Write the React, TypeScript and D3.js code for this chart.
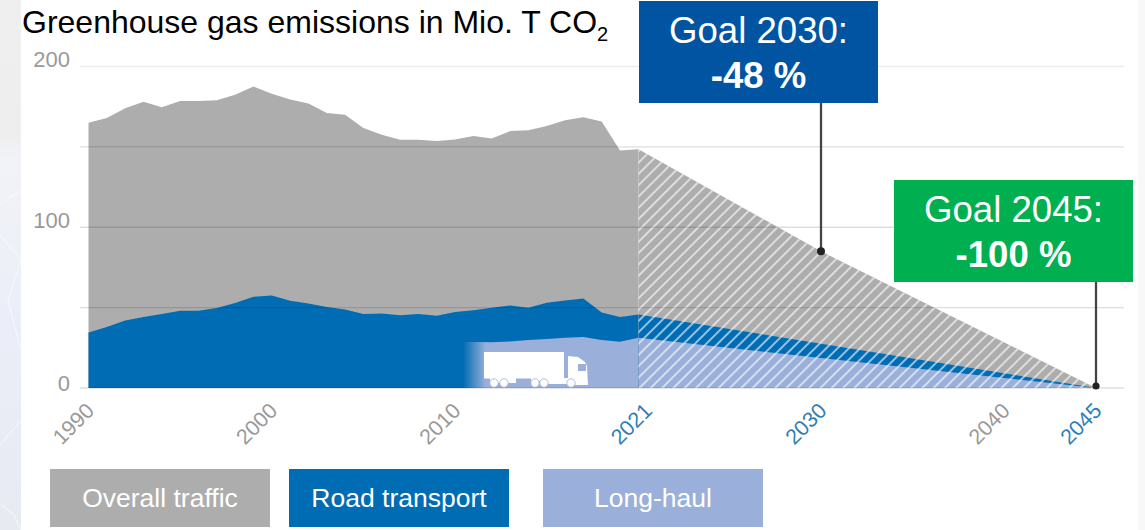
import React from "react";
import * as d3 from "d3";

const historyYears = [1990,1991,1992,1993,1994,1995,1996,1997,1998,1999,2000,2001,2002,2003,2004,2005,2006,2007,2008,2009,2010,2011,2012,2013,2014,2015,2016,2017,2018,2019,2021];
const overallValues = [165,168,174,178,174.6,178.5,178.5,179,182.5,187.5,183,179.5,177,171,170,161.7,157.5,154.5,154.5,153.7,154.6,156.7,155.2,159.8,160.4,163,166.5,168.5,165.8,147.7,148.5];
const roadValues = [34.6,37.9,42,44.2,46,48,48,49.8,52.9,56.7,57.5,54.2,52.5,50.4,48.8,46,46.4,45.2,46,45,47.3,48.3,50,51.4,50,53,54.4,55.6,47,44.2,45.8];
const longHaulYears = [2010,2011,2012,2013,2014,2015,2016,2017,2018,2019,2021];
const longHaulValues = [28.5,28.6,28.5,29,29.8,30.5,31.2,31.7,29.8,28.8,31.2];
const forecastYears = [2021,2030,2045];
const forecastOverall = [148.5,85,0];
const forecastRoad = [45.8,27.5,0];
const forecastLongHaul = [31.2,18.7,0];
const gridValues = [0,50,100,150,200];
const yLabels = [0,100,200];
const xTicks = [1990,2000,2010,2021,2030,2040,2045];
const blueTicks = [2021,2030,2045];
const legendItems = ["Overall traffic","Road transport","Long-haul"];

const GREY = "#adadad";
const BLUE = "#006cb3";
const LIGHT = "#9ab0da";
const FONT = "'Liberation Sans', Arial, sans-serif";

const x = d3.scaleLinear().domain([1990,2019,2021,2030,2045]).range([88.5,620,638.5,821,1096]);
const y = d3.scaleLinear().domain([0,200]).range([388,66.5]);

type P = [number, number];
const zip = (xs: number[], ys: number[]): P[] => xs.map((v, i) => [v, ys[i]]);
const area = d3.area<P>().x(d => x(d[0])).y0(y(0)).y1(d => y(d[1]));

const legendX = [50,289,543];
const legendFill = [GREY,BLUE,LIGHT];

export default function App() {
  return (
    <svg width={1145} height={530} viewBox="0 0 1145 530" style={{position:"fixed",left:0,top:0,background:"#fff"}} fontFamily={FONT}>
      <defs>
        <linearGradient id="leftBg" x1="0" y1="0" x2="0" y2="1">
          <stop offset="0" stopColor="#efefef"/>
          <stop offset="0.25" stopColor="#eeeeee"/>
          <stop offset="0.3" stopColor="#f2f3f7"/>
          <stop offset="0.6" stopColor="#ebeef8"/>
          <stop offset="1" stopColor="#e8eaf2"/>
        </linearGradient>
        <linearGradient id="lhFade" gradientUnits="userSpaceOnUse" x1={463} y1={0} x2={486} y2={0}>
          <stop offset="0" stopColor={LIGHT} stopOpacity={0}/>
          <stop offset="1" stopColor={LIGHT} stopOpacity={1}/>
        </linearGradient>
        <pattern id="hatch" patternUnits="userSpaceOnUse" width={8} height={8} patternTransform="translate(638 388) rotate(45)">
          <rect x={0} y={0} width={2} height={8} fill="#fff" fillOpacity={0.58}/>
        </pattern>
      </defs>

      <rect x={0} y={0} width={21} height={530} fill="url(#leftBg)"/>
      <path d="M0 205 L21 190 M0 235 L21 260 L8 300 L21 350 M0 445 L21 420 M2 505 L14 515 L21 530" fill="none" stroke="#fff" strokeOpacity={0.4} strokeWidth={1.5}/>
      <rect x={1138} y={0} width={7} height={530} fill="#f8f8f8"/>

      <path d={area(zip(historyYears, overallValues)) ?? ""} fill={GREY}/>
      <path d={area(zip(historyYears, roadValues)) ?? ""} fill={BLUE}/>
      <path d={area(zip(longHaulYears, longHaulValues)) ?? ""} fill="url(#lhFade)"/>

      <path d={area(zip(forecastYears, forecastOverall)) ?? ""} fill={GREY}/>
      <path d={area(zip(forecastYears, forecastRoad)) ?? ""} fill={BLUE}/>
      <path d={area(zip(forecastYears, forecastLongHaul)) ?? ""} fill={LIGHT}/>
      <path d={area(zip(forecastYears, forecastOverall)) ?? ""} fill="url(#hatch)"/>

      {gridValues.map(v => (
        <line key={v} x1={80} x2={1124} y1={y(v)} y2={y(v)} stroke="#000" strokeOpacity={v === 200 ? 0.07 : 0.13} strokeWidth={1.3}/>
      ))}

      {yLabels.map(v => (
        <text key={v} x={70} y={y(v) + (v === 0 ? 3 : 0.5)} textAnchor="end" fontSize={22} fill="#999">{v}</text>
      ))}

      {xTicks.map(t => {
        const px = x(t) + (t === 2021 ? 15 : 7);
        return (
          <text key={t} transform={`translate(${px},412) rotate(-45)`} textAnchor="end" fontSize={21.5}
            fill={blueTicks.includes(t) ? "#2f7fb6" : "#999"}>{t}</text>
        );
      })}

      {/* truck */}
      <g fill="#fff">
        <rect x={484} y={352} width={80} height={26.5}/>
        <rect x={490} y={378} width={26} height={5}/>
        <rect x={531} y={378} width={39} height={3}/>
        <rect x={548} y={381} width={24} height={3}/>
        <path d="M568 356 L578 357 L585 362 L587 366 L588 385 L568 385 Z"/>
        {[494,504,535,544,571].map(c => <circle key={c} cx={c} cy={383} r={4.2} stroke={LIGHT} strokeWidth={0.8}/>)}
      </g>
      <rect x={578} y={364} width={8} height={7} fill={LIGHT}/>

      {/* goal connectors */}
      <line x1={x(2030)} x2={x(2030)} y1={103} y2={y(85)} stroke="#444" strokeWidth={2.3}/>
      <circle cx={x(2030)} cy={y(85)} r={4} fill="#222"/>
      <line x1={x(2045)} x2={x(2045)} y1={282} y2={386} stroke="#444" strokeWidth={2.3}/>
      <circle cx={x(2045)} cy={386} r={3.6} fill="#222"/>

      <rect x={639} y={1} width={239} height={102} fill="#0054a2"/>
      <text x={758.5} y={43} textAnchor="middle" fontSize={36.6} fill="#fff">Goal 2030:</text>
      <text x={758.5} y={88} textAnchor="middle" fontSize={36.6} fontWeight="bold" fill="#fff">-48 %</text>

      <rect x={894} y={180} width={239} height={102} fill="#00b050"/>
      <text x={1013.5} y={222} textAnchor="middle" fontSize={36.6} fill="#fff">Goal 2045:</text>
      <text x={1013.5} y={267} textAnchor="middle" fontSize={36.6} fontWeight="bold" fill="#fff">-100 %</text>

      <text x={22} y={33} fontSize={32} fill="#000">Greenhouse gas emissions in Mio. T CO<tspan fontSize={20} dy={8}>2</tspan></text>

      {legendItems.map((name, i) => (
        <g key={name}>
          <rect x={legendX[i]} y={469} width={220} height={58} fill={legendFill[i]}/>
          <text x={legendX[i] + 110} y={507} textAnchor="middle" fontSize={26.5} fill="#fff">{name}</text>
        </g>
      ))}
    </svg>
  );
}
